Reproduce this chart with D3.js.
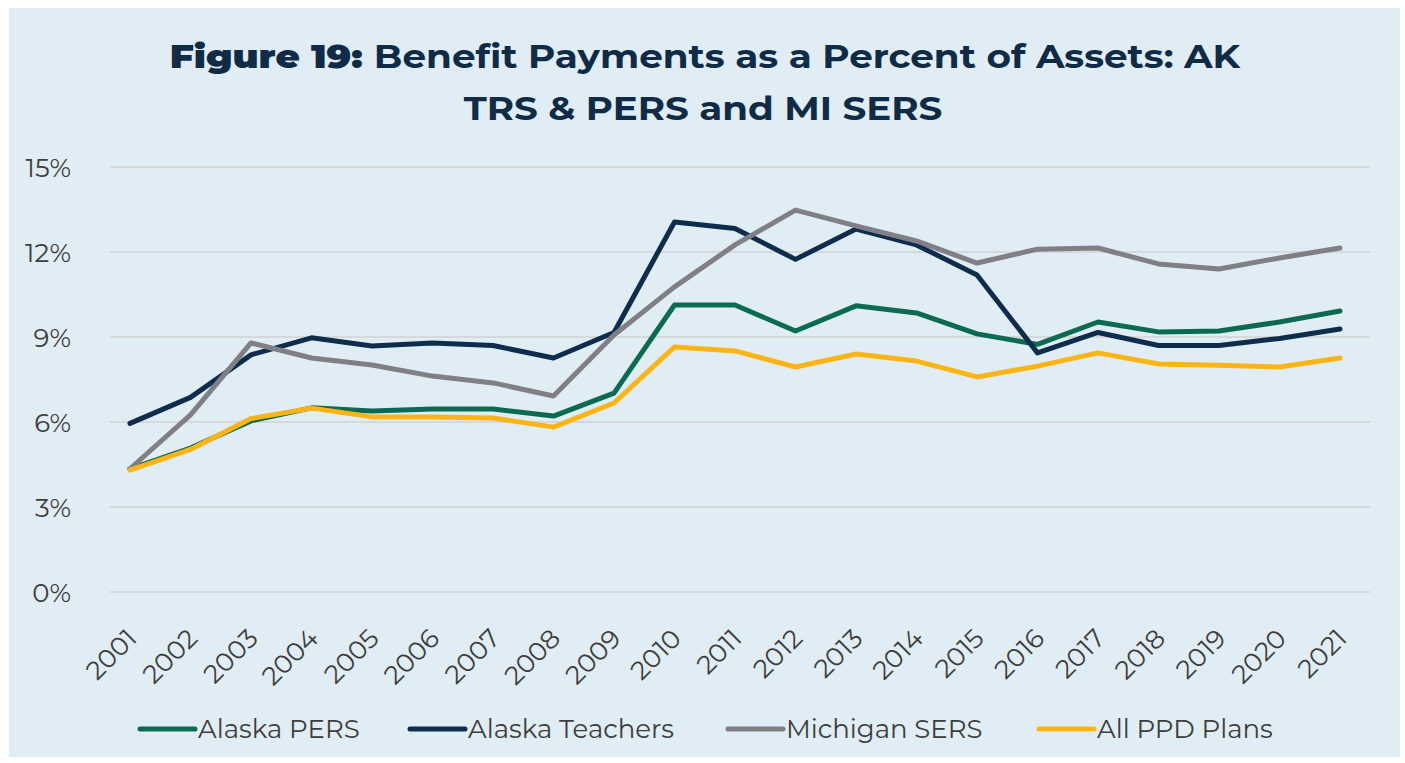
<!DOCTYPE html>
<html>
<head>
<meta charset="utf-8">
<script src="https://cdn.jsdelivr.net/npm/d3@7"></script>
<style>
  html, body { margin: 0; padding: 0; background: #ffffff; }
  svg { display: block; }
</style>
</head>
<body>
<svg id="chart" width="1405" height="763"></svg>
<script>
const years = ["2001","2002","2003","2004","2005","2006","2007","2008","2009","2010","2011","2012","2013","2014","2015","2016","2017","2018","2019","2020","2021"];
const alaskaPERS     = [4.35, 5.08, 6.04, 6.50, 6.39, 6.46, 6.46, 6.21, 7.02, 10.13, 10.13, 9.21, 10.10, 9.85, 9.11, 8.74, 9.53, 9.18, 9.21, 9.53, 9.92];
const alaskaTeachers = [5.95, 6.87, 8.37, 8.97, 8.68, 8.79, 8.70, 8.26, 9.16, 13.06, 12.83, 11.74, 12.81, 12.25, 11.19, 8.44, 9.16, 8.70, 8.70, 8.95, 9.28];
const michiganSERS   = [4.35, 6.25, 8.79, 8.26, 8.01, 7.62, 7.38, 6.92, 9.07, 10.77, 12.25, 13.48, 12.92, 12.39, 11.61, 12.10, 12.14, 11.58, 11.40, 11.79, 12.14];
const allPPDPlans    = [4.30, 5.03, 6.12, 6.49, 6.18, 6.18, 6.14, 5.82, 6.67, 8.65, 8.51, 7.94, 8.40, 8.15, 7.59, 7.97, 8.44, 8.05, 8.00, 7.94, 8.26];
const seriesNames  = ["Alaska PERS", "Alaska Teachers", "Michigan SERS", "All PPD Plans"];
const seriesValues = [alaskaPERS, alaskaTeachers, michiganSERS, allPPDPlans];
const seriesColors = ["#0b6b52", "#0e2d4c", "#7f7f85", "#fdb515"];
const yTicks = [0, 3, 6, 9, 12, 15];
const titleLines = ["Benefit Payments as a Percent of Assets: AK", "TRS & PERS and MI SERS"];
const titlePrefix = "Figure 19:";

const svg = d3.select("#chart");
const FONT = "'Montserrat', 'DejaVu Sans', 'Inter', sans-serif";
const TEXT = "#3d3d3d";

// panel background
svg.append("rect").attr("x", 9).attr("y", 8).attr("width", 1391).attr("height", 749).attr("fill", "#e1edf4");

// title (fitted horizontally to the reference's title width)
function fitTitle(sel, cx, cy, targetW) {
  const w = sel.node().getComputedTextLength();
  const sx = targetW / w;
  sel.attr("transform", `translate(${cx},${cy}) scale(${sx},1)`);
}
const t1 = svg.append("text").attr("x", 0).attr("y", 0).attr("text-anchor", "middle")
  .attr("font-family", FONT).attr("font-size", 32).attr("fill", "#0f2b46");
t1.append("tspan").attr("font-weight", 900).text(titlePrefix + " ");
t1.append("tspan").attr("font-weight", 700).text(titleLines[0]);
fitTitle(t1, 705, 68, 1071);
const t2 = svg.append("text").attr("x", 0).attr("y", 0).attr("text-anchor", "middle")
  .attr("font-family", FONT).attr("font-size", 32).attr("font-weight", 700).attr("fill", "#0f2b46")
  .text(titleLines[1]);
fitTitle(t2, 703, 120, 479);

const x = d3.scalePoint().domain(years).range([130, 1340]);
const y = d3.scaleLinear().domain([0, 15]).range([592, 167]);

// gridlines
svg.append("g").selectAll("line").data(yTicks).join("line")
  .attr("x1", 110).attr("x2", 1370)
  .attr("y1", d => y(d)).attr("y2", d => y(d))
  .attr("stroke", "#d6d9db").attr("stroke-width", 2);

// y axis labels
const yAxis = d3.axisLeft(y).tickValues(yTicks).tickFormat(d => d + "%").tickSize(0).tickPadding(0);
const gy = svg.append("g").attr("transform", "translate(71,0)").call(yAxis);
gy.select(".domain").remove();
gy.selectAll("text").attr("font-family", FONT).attr("font-size", 26).attr("fill", TEXT)
  .attr("font-weight", 400).attr("dy", "0.35em");

// x axis labels
const xAxis = d3.axisBottom(x).tickSize(0).tickPadding(0);
const gx = svg.append("g").attr("transform", "translate(0,592)").call(xAxis);
gx.select(".domain").remove();
gx.selectAll("text")
  .attr("font-family", FONT).attr("font-size", 26).attr("fill", TEXT).attr("font-weight", 400)
  .attr("text-anchor", "end").attr("dy", 0).attr("y", 0)
  .attr("transform", "translate(8,48) rotate(-45)");

// lines
const line = d3.line().x((d, i) => x(years[i])).y(d => y(d));
svg.append("g").selectAll("path").data(seriesValues).join("path")
  .attr("d", d => line(d))
  .attr("fill", "none")
  .attr("stroke", (d, i) => seriesColors[i])
  .attr("stroke-width", 5)
  .attr("stroke-linejoin", "round")
  .attr("stroke-linecap", "round");

// legend
const legendX = [140, 410, 728, 1039];
const lg = svg.append("g").selectAll("g").data(seriesNames).join("g")
  .attr("transform", (d, i) => `translate(${legendX[i]},729)`);
lg.append("line").attr("x1", 0).attr("x2", 55).attr("y1", 0).attr("y2", 0)
  .attr("stroke", (d, i) => seriesColors[i]).attr("stroke-width", 5).attr("stroke-linecap", "round");
lg.append("text").attr("x", 58).attr("y", 0).attr("dy", "0.35em")
  .attr("font-family", FONT).attr("font-size", 26).attr("fill", TEXT).attr("font-weight", 400)
  .text(d => d);
</script>
</body>
</html>
